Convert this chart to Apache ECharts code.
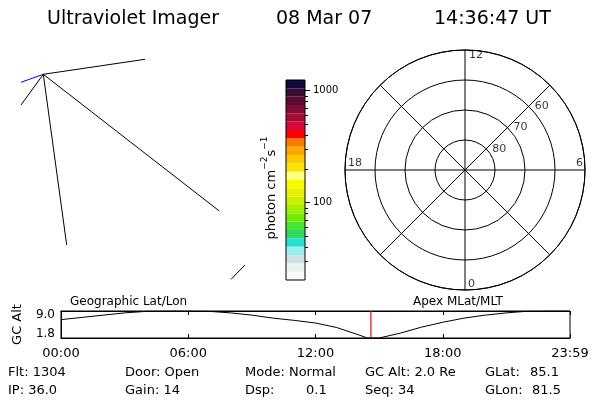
<!DOCTYPE html>
<html>
<head>
<meta charset="utf-8">
<script src="https://cdn.jsdelivr.net/npm/echarts@6/dist/echarts.min.js"></script>
<style>
html,body{margin:0;padding:0;background:#fff;}
#c{width:600px;height:400px;}
</style>
</head>
<body>
<div id="c"></div>
<script>
// ---------- DATA ----------
const titleTexts = ['Ultraviolet Imager', '08 Mar 07', '14:36:47 UT'];
const infoRow1 = ['Flt: 1304', 'Door: Open', 'Mode: Normal', 'GC Alt: 2.0 Re', 'GLat:', '85.1'];
const infoRow2 = ['IP: 36.0', 'Gain: 14', 'Dsp:', '0.1', 'Seq: 34', 'GLon:', '81.5'];
const panelLabels = ['Geographic Lat/Lon', 'Apex MLat/MLT'];

// Left image panel: projected graticule segments [x1, y1, x2, y2] (panel units)
const graticuleBlack = [
  [43.3, 34.3, 145, 19.3],
  [43.3, 34.3, 66.7, 205],
  [43.3, 34.3, 219.3, 171],
  [43.3, 34.3, 21, 65],
  [231, 239.3, 245, 225]
];
const graticuleBlue = [
  [43.3, 34.3, 21, 42.3]
];

// Colour bar (top to bottom)
const colorbarColors = [
  '#0b0b3b', '#3a0b33', '#5c0b35', '#820b33', '#a80b33', '#d4083a',
  '#ff0000', '#ff7800', '#ffa800', '#ffc800', '#ffe400', '#ffff80',
  '#f8f800', '#e6f000', '#c8f000', '#a0f000', '#70ee00', '#48e630',
  '#30d860', '#26e0d4', '#99eef0', '#d2e2e2', '#e8f4ee', '#f8fcfa'
];
const colorbarMin = 20.4, colorbarMax = 1246;
const colorbarMajor = [100, 1000];
const colorbarMinor = [30, 40, 50, 60, 70, 80, 90, 200, 300, 400, 500, 600, 700, 800, 900];
const colorbarUnit = 'photon cm';

// Polar grid
const mltLabels = [12, 6, 18, 0];
const latLabels = [80, 70, 60];
const latLabelMLT = 9;

// GC altitude strip
const stripHours = [0, 1, 2, 3, 4, 5, 6, 7, 8, 9, 10, 11, 12, 13, 14, 14.45, 15, 16, 17, 18, 19, 20, 21, 22, 23, 23.98];
const stripAlt   = [6.7, 7.3, 7.9, 8.5, 8.9, 9.0, 9.0, 8.9, 8.5, 7.9, 7.1, 6.5, 5.8, 4.6, 2.7, 1.8, 1.8, 3.1, 4.7, 6.0, 7.1, 7.9, 8.5, 8.95, 9.0, 9.0];
const stripTickLabels = ['00:00', '06:00', '12:00', '18:00', '23:59'];
const stripYLabels = [1.8, 9.0];
const currentHour = 14 + 36/60 + 47/3600;

// ---------- CHART ----------
const FONT = 'DejaVu Sans';
const chart = echarts.init(document.getElementById('c'), null, {renderer: 'canvas'});

function txt(text, left, top, size, extra) {
  return Object.assign({
    text: text, left: left, top: top, padding: 0,
    textStyle: {fontFamily: FONT, fontSize: size, fontWeight: 'normal', color: '#000', lineHeight: size + 2}
  }, extra || {});
}

const titles = [
  txt(titleTexts[0], 47, 9, 19),
  txt(titleTexts[1], 276, 9, 19),
  txt(titleTexts[2], 434, 9, 19),
  txt(panelLabels[0], 70, 295, 12),
  txt(panelLabels[1], 413, 295, 12)
];
const row1X = [8, 125, 245, 365, 485, 530];
const row2X = [8, 125, 245, 306, 365, 485, 532];
infoRow1.forEach((t, i) => titles.push(txt(t, row1X[i], 365, 13)));
infoRow2.forEach((t, i) => titles.push(txt(t, row2X[i], 383, 13)));

const segSeries = [];
function addSegs(list, color) {
  list.forEach(s => segSeries.push({
    type: 'line', xAxisIndex: 0, yAxisIndex: 0, silent: true, symbol: 'none',
    lineStyle: {color: color, width: 1}, data: [[s[0], s[1]], [s[2], s[3]]], z: 2
  }));
}
addSegs(graticuleBlack, '#000');
addSegs(graticuleBlue, '#0000ff');

const cbBottomUp = colorbarColors.slice().reverse();
const lg = v => Math.log10(v);

const option = {
  backgroundColor: '#fff',
  animation: false,
  title: titles,
  grid: [
    {left: 0, top: 40, width: 260, height: 250, show: false},
    {left: 286, top: 80, width: 19, height: 200, show: true, borderColor: '#000', borderWidth: 1, z: 5},
    {left: 61, top: 311, width: 509, height: 27, show: true, borderColor: '#000', borderWidth: 1}
  ],
  xAxis: [
    {gridIndex: 0, type: 'value', min: 0, max: 260, show: false},
    {gridIndex: 1, type: 'value', min: 0, max: 1, show: false},
    {gridIndex: 2, type: 'value', min: 0, max: 24, interval: 6, position: 'bottom',
      axisLine: {lineStyle: {color: '#000', width: 1}},
      axisTick: {inside: true, length: 4, lineStyle: {color: '#000'}},
      splitLine: {show: false},
      axisLabel: {fontFamily: FONT, fontSize: 13, color: '#000', margin: 9, showMinLabel: true, showMaxLabel: true,
        formatter: v => stripTickLabels[Math.round(v / 6)]}},
    {gridIndex: 2, type: 'value', min: 0, max: 24, interval: 6, position: 'top',
      axisLine: {lineStyle: {color: '#000', width: 1}},
      axisTick: {inside: true, length: 4, lineStyle: {color: '#000'}},
      splitLine: {show: false}, axisLabel: {show: false}}
  ],
  yAxis: [
    {gridIndex: 0, type: 'value', min: 0, max: 250, inverse: true, show: false},
    {gridIndex: 1, type: 'category', data: cbBottomUp.map((c, i) => 'L' + i),
      axisLine: {show: false}, axisTick: {show: false}, axisLabel: {show: false},
      name: '{n|' + colorbarUnit + '}{s|−2}{n|s}{s|−1}', nameLocation: 'middle', nameRotate: 90, nameGap: 8,
      nameTextStyle: {fontFamily: FONT, fontSize: 13, color: '#000', padding: [0, 16, 0, 0],
        rich: {
          n: {fontFamily: FONT, fontSize: 13, color: '#000', lineHeight: 18, verticalAlign: 'bottom'},
          s: {fontFamily: FONT, fontSize: 9, color: '#000', lineHeight: 18, verticalAlign: 'top'}
        }}},
    {gridIndex: 1, type: 'value', position: 'right', min: lg(colorbarMin), max: lg(colorbarMax),
      axisLine: {show: false}, splitLine: {show: false},
      axisTick: {show: true, inside: false, length: 5, customValues: colorbarMajor.map(lg), lineStyle: {color: '#000'}},
      axisLabel: {show: true, customValues: colorbarMajor.map(lg), margin: 8, fontFamily: FONT, fontSize: 10, color: '#000',
        formatter: v => String(Math.round(Math.pow(10, v)))}},
    {gridIndex: 1, type: 'value', position: 'right', min: lg(colorbarMin), max: lg(colorbarMax),
      axisLine: {show: false}, splitLine: {show: false},
      axisTick: {show: true, inside: false, length: 3, customValues: colorbarMinor.map(lg), lineStyle: {color: '#000'}},
      axisLabel: {show: false}},
    {gridIndex: 2, type: 'value', min: 1.8, max: 9.0,
      axisLine: {lineStyle: {color: '#000'}}, axisTick: {show: false}, splitLine: {show: false},
      name: 'GC Alt', nameLocation: 'middle', nameRotate: 90, nameGap: 37,
      nameTextStyle: {fontFamily: FONT, fontSize: 13, color: '#000'},
      axisLabel: {customValues: stripYLabels, fontFamily: FONT, fontSize: 12, color: '#000', margin: 6,
        formatter: v => (v > 5 ? '{t|' : '{b|') + v.toFixed(1) + '}',
        rich: {
          t: {fontFamily: FONT, fontSize: 12, color: '#000', padding: [8, 0, 0, 0]},
          b: {fontFamily: FONT, fontSize: 12, color: '#000', padding: [0, 0, 8, 0]}
        }}}
  ],
  polar: {center: [465, 170], radius: 120},
  angleAxis: {type: 'value', min: 0, max: 24, interval: 3, startAngle: 270, clockwise: false,
    axisLine: {show: true, lineStyle: {color: '#000', width: 1}},
    axisTick: {show: false}, axisLabel: {show: false},
    splitLine: {show: true, lineStyle: {color: '#000', width: 1}}},
  radiusAxis: {type: 'value', min: 50, max: 90, interval: 10, inverse: true,
    axisLine: {show: false}, axisTick: {show: false}, axisLabel: {show: false},
    splitLine: {show: true, lineStyle: {color: '#000', width: 1}}},
  series: segSeries.concat([
    {type: 'bar', xAxisIndex: 1, yAxisIndex: 1, barWidth: '100%', barCategoryGap: '0%', silent: true,
      data: cbBottomUp.map(c => ({value: 1, itemStyle: {color: c}}))},
    {type: 'line', xAxisIndex: 2, yAxisIndex: 4, symbol: 'none', silent: true,
      lineStyle: {color: '#000', width: 1},
      data: stripHours.map((h, i) => [h, stripAlt[i]])},
    {type: 'line', xAxisIndex: 2, yAxisIndex: 4, symbol: 'none', silent: true, z: 4,
      lineStyle: {color: '#ff0000', width: 1.2},
      data: [[currentHour, stripYLabels[0]], [currentHour, stripYLabels[1]]]},
    {type: 'scatter', coordinateSystem: 'polar', symbolSize: 0, silent: true,
      data: [
        {value: [50, mltLabels[0]], label: {formatter: String(mltLabels[0]), position: [4, 0], align: 'left', verticalAlign: 'top'}},
        {value: [50, mltLabels[1]], label: {formatter: String(mltLabels[1]), position: [-2, -1], align: 'right', verticalAlign: 'bottom'}},
        {value: [50, mltLabels[2]], label: {formatter: String(mltLabels[2]), position: [3, -1], align: 'left', verticalAlign: 'bottom'}},
        {value: [50, mltLabels[3]], label: {formatter: String(mltLabels[3]), position: [3, 0], align: 'left', verticalAlign: 'bottom'}}
      ].concat(latLabels.map(l => ({value: [l, latLabelMLT],
        label: {formatter: String(l), position: [6, 0], align: 'left', verticalAlign: 'middle'}}))),
      label: {show: true, fontFamily: FONT, fontSize: 11, color: '#000'}}
  ])
};
chart.setOption(option);
</script>
</body>
</html>
